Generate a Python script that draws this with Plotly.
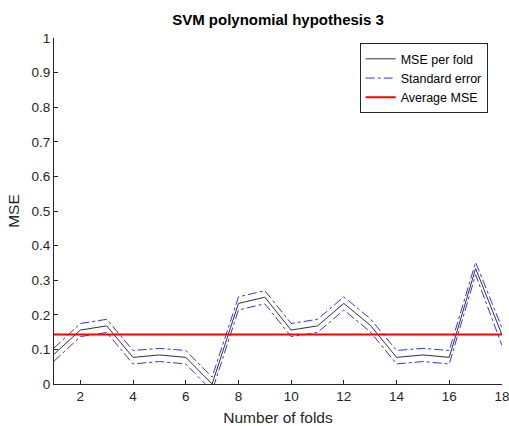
import plotly.graph_objects as go

folds = list(range(1, 19))
mse = [0.086, 0.156, 0.168, 0.077, 0.084, 0.077, 0.0, 0.233, 0.251,
       0.156, 0.168, 0.233, 0.170, 0.077, 0.084, 0.077, 0.334, 0.142]
se_upper = [0.104, 0.175, 0.187, 0.097, 0.103, 0.097, 0.020, 0.252, 0.270,
            0.175, 0.187, 0.252, 0.189, 0.097, 0.103, 0.097, 0.352, 0.162]
se_lower = [0.066, 0.137, 0.149, 0.058, 0.065, 0.058, -0.020, 0.214, 0.232,
            0.137, 0.149, 0.214, 0.151, 0.058, 0.065, 0.058, 0.316, 0.112]
avg_mse = sum(mse) / len(mse)

FONT = "Liberation Sans, Arial, sans-serif"
AX = "#262626"

fig = go.Figure()
fig.add_trace(go.Scatter(x=folds, y=mse, mode="lines", name="MSE per fold",
                         line=dict(color="#333333", width=1)))
fig.add_trace(go.Scatter(x=folds, y=se_upper, mode="lines", name="Standard error",
                         line=dict(color="#3333ff", width=1, dash="dashdot")))
fig.add_trace(go.Scatter(x=folds, y=se_lower, mode="lines", name="Standard error",
                         showlegend=False,
                         line=dict(color="#3333ff", width=1, dash="dashdot")))
fig.add_trace(go.Scatter(x=[folds[0], folds[-1]], y=[avg_mse, avg_mse], mode="lines",
                         name="Average MSE", line=dict(color="#ff0000", width=2)))

fig.update_layout(
    width=509, height=426,
    margin=dict(l=54, r=7, t=38, b=42),
    paper_bgcolor="white", plot_bgcolor="white",
    font=dict(family=FONT, color=AX, size=13.5),
    title=dict(text="<b>SVM polynomial hypothesis 3</b>", x=278 / 509,
               xanchor="center", y=1 - 20 / 426, yanchor="middle",
               font=dict(size=15, color="#000000")),
    showlegend=True,
    legend=dict(x=0.968, y=0.985, xanchor="right", yanchor="top",
                bgcolor="white", bordercolor="#262626", borderwidth=1,
                font=dict(size=12.5, color="#000000"), tracegroupgap=0,
                itemwidth=30),
)
fig.update_xaxes(range=[1, 18.0005], tickvals=list(range(2, 19, 2)),
                 ticklabeloverflow="allow", automargin=False,
                 showgrid=False, zeroline=False, showline=True, linecolor=AX,
                 linewidth=1, ticks="inside", ticklen=4, tickcolor=AX,
                 title=dict(text="Number of folds", font=dict(size=15.5), standoff=9))
fig.update_yaxes(range=[0, 1.0005], tickvals=[i / 10 for i in range(11)],
                 ticktext=["0"] + [f"0.{i}" for i in range(1, 10)] + ["1"],
                 automargin=False,
                 showgrid=False, zeroline=False, showline=True, linecolor=AX,
                 linewidth=1, ticks="inside", ticklen=4, tickcolor=AX,
                 title=dict(text="MSE", font=dict(size=15.5), standoff=8))

fig.write_html("out.html")
